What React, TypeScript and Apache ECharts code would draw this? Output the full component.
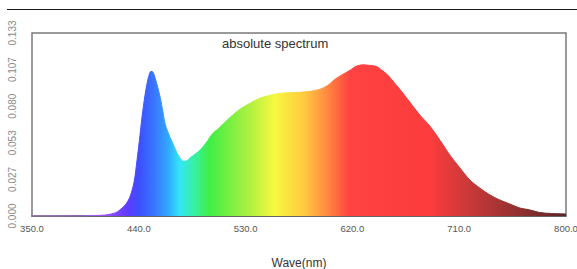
import React, { useEffect, useRef } from "react";
import * as echarts from "echarts";

// Wavelength (nm) and absolute spectrum values
const waveNm = [
  350, 390, 403, 411.5, 420, 424, 428.5, 432.5, 436, 438.5, 441, 442.7, 445.2, 447, 448.6,
  450.3, 452, 453.6, 456.2, 458, 460.4, 462, 464.6, 466.3, 469.7, 472.2, 474.8, 477.2,
  479.8, 483, 487.4, 491.6, 496.6, 502.5, 508.4, 517, 525.3, 533.7, 542, 550.6, 559,
  567.4, 575.8, 584.3, 592.7, 599.4, 605.3, 612, 618, 623, 629, 634.8, 640, 645, 650,
  655, 660, 668.5, 677, 685.4, 693.8, 702.2, 710.7, 719, 727.5, 736, 744.4, 752.8, 761.2,
  769.7, 778, 788, 800,
];
const absValues = [
  0, 0, 0.0004, 0.0007, 0.0022, 0.0044, 0.008, 0.0138, 0.0247, 0.0407, 0.0589, 0.072,
  0.0879, 0.0967, 0.1025, 0.1054, 0.1047, 0.101, 0.093, 0.0865, 0.0756, 0.0676, 0.061,
  0.0574, 0.0509, 0.0458, 0.0422, 0.04, 0.04, 0.0422, 0.0451, 0.048, 0.0531, 0.0603,
  0.0647, 0.0719, 0.0778, 0.0821, 0.0858, 0.0879, 0.0894, 0.0898, 0.0901, 0.0908,
  0.0923, 0.0952, 0.0996, 0.1032, 0.1061, 0.109, 0.1101, 0.1097, 0.109, 0.1061, 0.1025,
  0.0974, 0.0923, 0.0828, 0.0734, 0.0654, 0.0552, 0.0443, 0.0349, 0.0262, 0.0203,
  0.0153, 0.0116, 0.0087, 0.0058, 0.0044, 0.0025, 0.0018, 0.0015,
];

const X_MIN = 350;
const X_MAX = 800;
const X_STEP = 90;
const Y_MAX = 0.1333;
const Y_STEP = Y_MAX / 5;

const chartTitle = "absolute spectrum";
const xAxisName = "Wave(nm)";

const spectrumStops = [
  { offset: 0, color: "#d090ff" },
  { offset: 0.127, color: "#a858ff" },
  { offset: 0.155, color: "#8244ff" },
  { offset: 0.18, color: "#5c3cff" },
  { offset: 0.202, color: "#3c50ff" },
  { offset: 0.23, color: "#3a78ff" },
  { offset: 0.255, color: "#30a8ff" },
  { offset: 0.277, color: "#34e6f6" },
  { offset: 0.305, color: "#38f0a0" },
  { offset: 0.333, color: "#40ee44" },
  { offset: 0.4, color: "#a4f040" },
  { offset: 0.455, color: "#f8f840" },
  { offset: 0.511, color: "#ffc840" },
  { offset: 0.558, color: "#ff8040" },
  { offset: 0.595, color: "#ff4242" },
  { offset: 0.745, color: "#fc3c3c" },
  { offset: 0.82, color: "#c83838" },
  { offset: 0.914, color: "#903030" },
  { offset: 1, color: "#5a2626" },
];

export default function App() {
  const ref = useRef<HTMLDivElement>(null);
  useEffect(() => {
    if (!ref.current) return;
    const chart = echarts.init(ref.current, undefined, { renderer: "svg" });
    const data = waveNm.map((w, i) => [w - X_MIN, absValues[i]]);
    const grad = () => new echarts.graphic.LinearGradient(0, 0, 1, 0, spectrumStops);
    chart.setOption({
      animation: false,
      backgroundColor: "#ffffff",
      textStyle: { fontFamily: "Liberation Sans" },
      title: {
        text: chartTitle,
        left: 217,
        top: 32,
        textStyle: { fontSize: 13, fontWeight: "normal", color: "#333", fontFamily: "Liberation Sans" },
      },
      graphic: [
        {
          type: "line",
          shape: { x1: 7, y1: 9.5, x2: 577, y2: 9.5 },
          style: { stroke: "#1a1a1a", lineWidth: 1.2 },
        },
      ],
      grid: {
        left: 32,
        top: 33,
        right: 11,
        bottom: 53,
        show: true,
        borderColor: "#7a7a7a",
        borderWidth: 1.5,
        backgroundColor: "transparent",
        containLabel: false,
        outerBoundsMode: "none",
      },
      xAxis: {
        type: "value",
        min: 0,
        max: X_MAX - X_MIN,
        interval: X_STEP,
        name: xAxisName,
        nameLocation: "middle",
        nameGap: 41,
        nameTextStyle: { fontSize: 12, color: "#333", fontFamily: "Liberation Sans" },
        axisLine: { show: true, lineStyle: { color: "#555", width: 1.5 } },
        axisTick: { show: false },
        splitLine: { show: false },
        axisLabel: {
          margin: 7,
          fontSize: 9.5,
          color: "#555",
          fontFamily: "Liberation Sans",
          formatter: (v: number) => (v + X_MIN).toFixed(1),
        },
      },
      yAxis: {
        type: "value",
        min: 0,
        max: Y_MAX,
        interval: Y_STEP,
        axisLine: { show: false },
        axisTick: { show: false },
        splitLine: { show: false },
        axisLabel: {
          rotate: 90,
          margin: 15,
          fontSize: 10,
          color: "#8a8a8a",
          fontFamily: "Liberation Sans",
          formatter: (v: number) => v.toFixed(3),
        },
      },
      series: [
        {
          type: "line",
          data,
          smooth: 0.3,
          showSymbol: false,
          symbol: "none",
          lineStyle: { color: grad(), width: 1 },
          areaStyle: { color: grad(), opacity: 1 },
        },
      ],
    });
    return () => chart.dispose();
  }, []);
  return (
    <div
      ref={ref}
      style={{ position: "fixed", left: 0, top: 0, width: 577, height: 269, background: "#fff" }}
    />
  );
}
